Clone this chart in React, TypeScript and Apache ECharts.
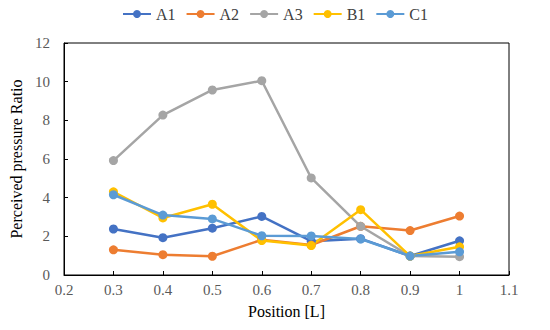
import React, { useEffect, useRef } from "react";
import * as echarts from "echarts";

const positions = [0.3, 0.4, 0.5, 0.6, 0.7, 0.8, 0.9, 1.0];
const seriesNames = ["A1", "A2", "A3", "B1", "C1"];
const a1 = [2.38, 1.93, 2.42, 3.03, 1.75, 1.88, 0.98, 1.77];
const a2 = [1.3, 1.05, 0.97, 1.82, 1.55, 2.52, 2.3, 3.05];
const a3 = [5.92, 8.27, 9.57, 10.05, 5.02, 2.52, 0.98, 0.95];
const b1 = [4.3, 2.95, 3.66, 1.78, 1.52, 3.38, 0.98, 1.46];
const c1 = [4.15, 3.1, 2.9, 2.03, 2.02, 1.86, 0.98, 1.2];
const colors = ["#4472C4", "#ED7D31", "#A5A5A5", "#FFC000", "#5B9BD5"];

const font = "Times New Roman, Liberation Serif, serif";

export default function App() {
  const ref = useRef<HTMLDivElement>(null);
  useEffect(() => {
    if (!ref.current) return;
    const chart = echarts.init(ref.current, undefined, { renderer: "svg" });
    const data = [a1, a2, a3, b1, c1];
    chart.setOption({
      animation: false,
      backgroundColor: "#ffffff",
      textStyle: { fontFamily: font },
      legend: {
        top: 1,
        left: "center",
        itemWidth: 28,
        itemHeight: 10,
        itemGap: 10,
        textStyle: { fontFamily: font, fontSize: 16, color: "#404040" },
        data: seriesNames,
      },
      grid: {
        left: 63,
        right: 41,
        top: 43,
        bottom: 55,
        show: true,
        borderColor: "#000",
        borderWidth: 1,
      },
      xAxis: {
        type: "value",
        min: 0.2,
        max: 1.1,
        interval: 0.1,
        name: "Position [L]",
        nameLocation: "middle",
        nameGap: 28,
        nameTextStyle: { fontFamily: font, fontSize: 16, color: "#000" },
        axisLine: { lineStyle: { color: "#000", width: 1 } },
        axisTick: { inside: true, length: 4, lineStyle: { color: "#000" } },
        axisLabel: {
          fontFamily: font,
          fontSize: 15,
          color: "#595959",
          margin: 7,
          formatter: (v: number) => String(+v.toFixed(1)),
        },
        splitLine: { show: false },
      },
      yAxis: {
        type: "value",
        min: 0,
        max: 12,
        interval: 2,
        name: "Perceived pressure Ratio",
        nameLocation: "middle",
        nameGap: 40,
        nameTextStyle: { fontFamily: font, fontSize: 16, color: "#000" },
        axisLine: { show: true, lineStyle: { color: "#000", width: 1 } },
        axisTick: { show: true, inside: true, length: 4, lineStyle: { color: "#000" } },
        axisLabel: { fontFamily: font, fontSize: 15, color: "#595959", margin: 14 },
        splitLine: { show: false },
      },
      series: seriesNames.map((name, i) => ({
        name,
        type: "line",
        data: positions.map((p, j) => [p, data[i][j]]),
        symbol: "circle",
        symbolSize: 9,
        lineStyle: { width: 2.5, color: colors[i] },
        itemStyle: { color: colors[i] },
      })),
    });
    return () => chart.dispose();
  }, []);
  return <div ref={ref} style={{ width: 550, height: 330, position: "absolute", left: 0, top: 0 }} />;
}
